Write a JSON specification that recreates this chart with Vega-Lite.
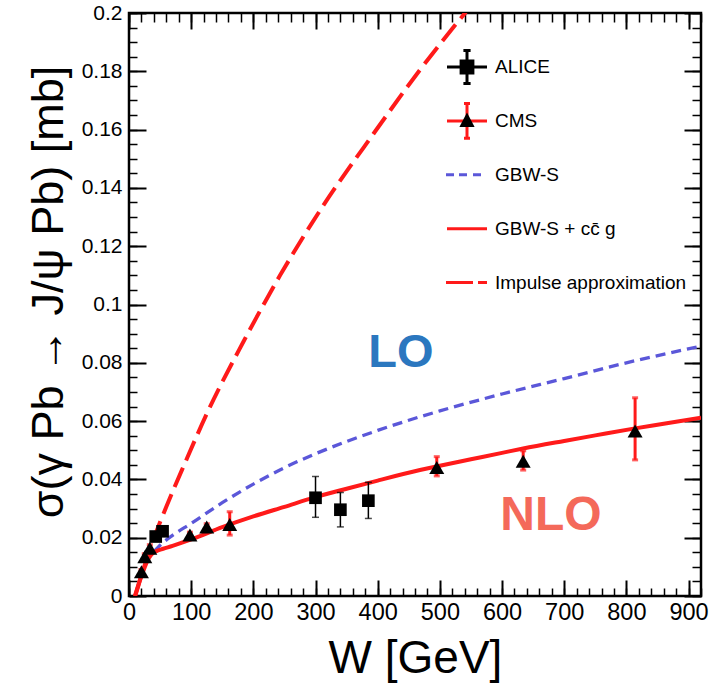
{
  "$schema": "https://vega.github.io/schema/vega-lite/v6.json",
  "width": 572,
  "height": 583,
  "autosize": {"type": "none"},
  "padding": {"left": 129, "top": 13, "right": 21, "bottom": 95},
  "background": "white",
  "config": {
    "view": {"stroke": "black", "strokeWidth": 2.5},
    "font": "Liberation Sans",
    "axis": {"grid": false, "domain": false, "labelFont": "Liberation Sans", "titleFont": "Liberation Sans", "labelColor": "black", "titleColor": "black", "tickColor": "black", "labelFlush": false, "labelOverlap": false}
  },
  "datasets": {
    "alice": [
      {"W": 43, "sigma": 0.0204, "lo": 0.0192, "hi": 0.0216},
      {"W": 54, "sigma": 0.0222, "lo": 0.021, "hi": 0.0234},
      {"W": 300, "sigma": 0.0337, "lo": 0.027, "hi": 0.041},
      {"W": 340, "sigma": 0.0296, "lo": 0.0237, "hi": 0.0355},
      {"W": 385, "sigma": 0.0327, "lo": 0.0266, "hi": 0.039}
    ],
    "cms": [
      {"W": 20, "sigma": 0.0083, "lo": 0.0075, "hi": 0.0091},
      {"W": 25.4, "sigma": 0.0135, "lo": 0.0125, "hi": 0.0145},
      {"W": 33.5, "sigma": 0.0164, "lo": 0.0152, "hi": 0.0176},
      {"W": 98, "sigma": 0.0209, "lo": 0.0199, "hi": 0.0219},
      {"W": 125, "sigma": 0.0237, "lo": 0.0226, "hi": 0.0248},
      {"W": 162, "sigma": 0.0245, "lo": 0.0209, "hi": 0.0289},
      {"W": 495, "sigma": 0.0441, "lo": 0.0412, "hi": 0.0478},
      {"W": 634, "sigma": 0.0462, "lo": 0.0432, "hi": 0.0498},
      {"W": 814, "sigma": 0.0566, "lo": 0.0467, "hi": 0.068}
    ],
    "impulse": [
      {"W": 9.5, "sigma": 0}, {"W": 20, "sigma": 0.0072}, {"W": 30, "sigma": 0.0136}, {"W": 39, "sigma": 0.0192},
      {"W": 60, "sigma": 0.0306}, {"W": 90, "sigma": 0.0456}, {"W": 127, "sigma": 0.0634}, {"W": 184, "sigma": 0.0872},
      {"W": 243, "sigma": 0.11}, {"W": 312, "sigma": 0.1338}, {"W": 393, "sigma": 0.1585}, {"W": 468, "sigma": 0.1805},
      {"W": 550, "sigma": 0.2025}
    ],
    "gbws": [
      {"W": 40, "sigma": 0.0152}, {"W": 52, "sigma": 0.0178}, {"W": 70, "sigma": 0.0208}, {"W": 100, "sigma": 0.0249},
      {"W": 150, "sigma": 0.032}, {"W": 200, "sigma": 0.0384}, {"W": 250, "sigma": 0.044}, {"W": 300, "sigma": 0.0488},
      {"W": 350, "sigma": 0.053}, {"W": 400, "sigma": 0.0568}, {"W": 450, "sigma": 0.0603}, {"W": 500, "sigma": 0.0635},
      {"W": 600, "sigma": 0.0693}, {"W": 700, "sigma": 0.0746}, {"W": 800, "sigma": 0.08}, {"W": 920, "sigma": 0.0857}
    ],
    "nlo": [
      {"W": 10, "sigma": 0}, {"W": 15, "sigma": 0.0035}, {"W": 20, "sigma": 0.0068}, {"W": 25, "sigma": 0.0097},
      {"W": 30, "sigma": 0.0122}, {"W": 35, "sigma": 0.014}, {"W": 40, "sigma": 0.015}, {"W": 45, "sigma": 0.0155},
      {"W": 55, "sigma": 0.0162}, {"W": 70, "sigma": 0.0172}, {"W": 100, "sigma": 0.0194}, {"W": 150, "sigma": 0.0236},
      {"W": 200, "sigma": 0.0273}, {"W": 250, "sigma": 0.0306}, {"W": 300, "sigma": 0.0339}, {"W": 350, "sigma": 0.0368},
      {"W": 400, "sigma": 0.0396}, {"W": 468, "sigma": 0.0432}, {"W": 500, "sigma": 0.0447}, {"W": 550, "sigma": 0.0469},
      {"W": 600, "sigma": 0.0491}, {"W": 634, "sigma": 0.0506}, {"W": 700, "sigma": 0.0532}, {"W": 750, "sigma": 0.0551},
      {"W": 814, "sigma": 0.0575}, {"W": 860, "sigma": 0.0591}, {"W": 920, "sigma": 0.0612}
    ],
    "labels": [
      {"W": 437.5, "sigma": 0.0786, "label": "LO"},
      {"W": 678.6, "sigma": 0.0226, "label": "NLO"}
    ]
  },
  "layer": [
    {
      "data": {"name": "gbws"},
      "mark": {"type": "line", "color": "#5b57d9", "strokeWidth": 3.3, "strokeDash": [10, 6], "clip": true, "interpolate": "monotone"},
      "encoding": {
        "x": {"field": "W", "type": "quantitative", "scale": {"domain": [0, 920], "nice": false, "zero": false},
          "axis": {"orient": "bottom", "ticks": false, "values": [0, 100, 200, 300, 400, 500, 600, 700, 800, 900], "format": "d", "labelFontSize": 23.5, "labelPadding": 4, "title": "W [GeV]", "titleFontSize": 46, "titleFontWeight": "normal", "titleX": 286, "titleY": 76, "titleBaseline": "alphabetic", "titleAlign": "center"}},
        "y": {"field": "sigma", "type": "quantitative", "scale": {"domain": [0, 0.2], "nice": false, "zero": false},
          "axis": {"orient": "left", "ticks": false, "values": [0, 0.02, 0.04, 0.06, 0.08, 0.1, 0.12, 0.14, 0.16, 0.18, 0.2], "format": "~g", "labelFontSize": 21, "labelPadding": 7, "title": "σ(γ Pb → J/ψ Pb) [mb]", "titleFontSize": 45, "titleFontWeight": "normal", "titleX": -67, "titleY": 278.5, "titleAngle": 270, "titleBaseline": "alphabetic", "titleAlign": "center"}}
      }
    },
    {
      "data": {"name": "impulse"},
      "mark": {"type": "line", "color": "#ff1a1a", "strokeWidth": 4, "strokeDash": [21, 8], "clip": true, "interpolate": "monotone"},
      "encoding": {
        "x": {"field": "W", "type": "quantitative", "axis": {"orient": "bottom", "labels": false, "title": null, "values": [0, 100, 200, 300, 400, 500, 600, 700, 800, 900], "tickSize": -16, "tickWidth": 2}},
        "y": {"field": "sigma", "type": "quantitative", "axis": {"orient": "left", "labels": false, "title": null, "values": [0, 0.02, 0.04, 0.06, 0.08, 0.1, 0.12, 0.14, 0.16, 0.18, 0.2], "tickSize": -17, "tickWidth": 2}}
      }
    },
    {
      "data": {"name": "nlo"},
      "mark": {"type": "line", "color": "#ff1a1a", "strokeWidth": 4, "clip": true, "interpolate": "monotone"},
      "encoding": {
        "x": {"field": "W", "type": "quantitative", "axis": {"orient": "bottom", "labels": false, "title": null, "tickCount": 46, "tickSize": -8, "tickWidth": 1.5}},
        "y": {"field": "sigma", "type": "quantitative", "axis": {"orient": "left", "labels": false, "title": null, "tickCount": 40, "tickSize": -8, "tickWidth": 1.5}}
      }
    },
    {
      "data": {"name": "alice"},
      "mark": {"type": "rule", "color": "black", "strokeWidth": 1.5},
      "encoding": {
        "x": {"field": "W", "type": "quantitative", "axis": {"orient": "top", "labels": false, "title": null, "values": [0, 100, 200, 300, 400, 500, 600, 700, 800, 900], "tickSize": -16, "tickWidth": 2}},
        "y": {"field": "lo", "type": "quantitative", "axis": {"orient": "right", "labels": false, "title": null, "values": [0, 0.02, 0.04, 0.06, 0.08, 0.1, 0.12, 0.14, 0.16, 0.18, 0.2], "tickSize": -17, "tickWidth": 2}},
        "y2": {"field": "hi"}
      }
    },
    {
      "data": {"name": "alice"},
      "mark": {"type": "tick", "orient": "horizontal", "color": "black", "size": 7, "thickness": 1.5},
      "encoding": {
        "x": {"field": "W", "type": "quantitative", "axis": {"orient": "top", "labels": false, "title": null, "tickCount": 46, "tickSize": -9, "tickWidth": 1.5}},
        "y": {"field": "lo", "type": "quantitative", "axis": {"orient": "right", "labels": false, "title": null, "tickCount": 40, "tickSize": -9, "tickWidth": 1.5}}
      }
    },
    {
      "data": {"name": "alice"},
      "mark": {"type": "tick", "orient": "horizontal", "color": "black", "size": 7, "thickness": 1.5},
      "encoding": {
        "x": {"field": "W", "type": "quantitative", "axis": null},
        "y": {"field": "hi", "type": "quantitative", "axis": null}
      }
    },
    {
      "data": {"name": "alice"},
      "mark": {"type": "point", "shape": "square", "filled": true, "color": "black", "size": 160, "opacity": 1},
      "encoding": {
        "x": {"field": "W", "type": "quantitative", "axis": null},
        "y": {"field": "sigma", "type": "quantitative", "axis": null}
      }
    },
    {
      "data": {"name": "cms"},
      "mark": {"type": "rule", "color": "#ff1a1a", "strokeWidth": 3},
      "encoding": {
        "x": {"field": "W", "type": "quantitative", "axis": null},
        "y": {"field": "lo", "type": "quantitative", "axis": null},
        "y2": {"field": "hi"}
      }
    },
    {
      "data": {"name": "cms"},
      "mark": {"type": "tick", "orient": "horizontal", "color": "#ff1a1a", "size": 6, "thickness": 3},
      "encoding": {
        "x": {"field": "W", "type": "quantitative", "axis": null},
        "y": {"field": "lo", "type": "quantitative", "axis": null}
      }
    },
    {
      "data": {"name": "cms"},
      "mark": {"type": "tick", "orient": "horizontal", "color": "#ff1a1a", "size": 6, "thickness": 3},
      "encoding": {
        "x": {"field": "W", "type": "quantitative", "axis": null},
        "y": {"field": "hi", "type": "quantitative", "axis": null}
      }
    },
    {
      "data": {"name": "cms"},
      "mark": {"type": "point", "shape": "triangle-up", "filled": true, "color": "black", "size": 225, "opacity": 1},
      "encoding": {
        "x": {"field": "W", "type": "quantitative", "axis": null},
        "y": {"field": "sigma", "type": "quantitative", "axis": null}
      }
    },
    {
      "data": {"name": "labels"},
      "transform": [{"filter": "datum.label == 'LO'"}],
      "mark": {"type": "text", "color": "#2b77bf", "font": "Liberation Sans", "fontWeight": "bold", "fontSize": 47, "align": "center", "baseline": "alphabetic"},
      "encoding": {
        "x": {"field": "W", "type": "quantitative", "axis": null},
        "y": {"field": "sigma", "type": "quantitative", "axis": null},
        "text": {"field": "label"}
      }
    },
    {
      "data": {"name": "labels"},
      "transform": [{"filter": "datum.label == 'NLO'"}],
      "mark": {"type": "text", "color": "#f4695a", "font": "Liberation Sans", "fontWeight": "bold", "fontSize": 48, "align": "center", "baseline": "alphabetic"},
      "encoding": {
        "x": {"field": "W", "type": "quantitative", "axis": null},
        "y": {"field": "sigma", "type": "quantitative", "axis": null},
        "text": {"field": "label"}
      }
    },
    {
      "data": {"values": []},
      "mark": {"type": "point", "filled": false, "strokeWidth": 3, "opacity": 1},
      "encoding": {
        "stroke": {"field": "s", "type": "nominal",
          "scale": {"domain": ["ALICE", "CMS", "GBW-S", "GBW-S + cc̄ g", "Impulse approximation"], "range": ["black", "#ff1a1a", "#5b57d9", "#ff1a1a", "#ff1a1a"]},
          "legend": {"orient": "none", "legendX": 316.5, "legendY": 32, "title": null, "symbolSize": 1600, "symbolStrokeWidth": 3, "symbolFillColor": "transparent", "symbolOpacity": 1, "labelFont": "Liberation Sans", "labelFontSize": 19, "labelColor": "black", "labelOffset": 6.5, "labelLimit": 400, "clipHeight": 44, "rowPadding": 9.9, "padding": 0}},
        "shape": {"field": "s", "type": "nominal",
          "scale": {"domain": ["ALICE", "CMS", "GBW-S", "GBW-S + cc̄ g", "Impulse approximation"], "range": ["M-1,0H1M0,-0.83V0.83M-0.18,-0.83H0.18M-0.18,0.83H0.18", "M-1,0H1M0,-0.87V0.87M-0.15,-0.87H0.15M-0.15,0.87H0.15", "M-1.05,0H-0.65M-0.4,0H0M0.3,0H0.7", "M-1,0H1", "M-1.05,0H0.3M0.55,0H1"]},
          "legend": {"orient": "none", "legendX": 316.5, "legendY": 32, "title": null, "symbolSize": 1600, "symbolStrokeWidth": 3, "symbolFillColor": "transparent", "symbolOpacity": 1, "labelFont": "Liberation Sans", "labelFontSize": 19, "labelColor": "black", "labelOffset": 6.5, "labelLimit": 400, "clipHeight": 44, "rowPadding": 9.9, "padding": 0}}
      }
    },
    {
      "data": {"values": []},
      "mark": {"type": "point", "filled": true, "opacity": 1},
      "encoding": {
        "fill": {"field": "m", "type": "nominal",
          "scale": {"domain": ["ALICE ", "CMS ", "GBW-S ", "GBW-S + cc̄ g ", "Impulse approximation "], "range": ["black", "black", "black", "black", "black"]},
          "legend": {"orient": "none", "legendX": 318, "legendY": 32, "title": null, "symbolSize": 1600, "symbolStrokeWidth": 0, "symbolOpacity": 1, "labelFont": "Liberation Sans", "labelFontSize": 19, "labelColor": "transparent", "labelOffset": 6.5, "labelLimit": 400, "clipHeight": 44, "rowPadding": 9.9, "padding": 0}},
        "shape": {"field": "m", "type": "nominal",
          "scale": {"domain": ["ALICE ", "CMS ", "GBW-S ", "GBW-S + cc̄ g ", "Impulse approximation "], "range": ["M-0.37,-0.37H0.37V0.37H-0.37Z", "M0,-0.42L0.38,0.3H-0.38Z", "M0,0", "M0,0", "M0,0"]},
          "legend": {"orient": "none", "legendX": 318, "legendY": 32, "title": null, "symbolSize": 1600, "symbolStrokeWidth": 0, "symbolOpacity": 1, "labelFont": "Liberation Sans", "labelFontSize": 19, "labelColor": "transparent", "labelOffset": 6.5, "labelLimit": 400, "clipHeight": 44, "rowPadding": 9.9, "padding": 0}}
      }
    }
  ],
  "resolve": {
    "scale": {"shape": "independent", "stroke": "independent", "fill": "independent"},
    "legend": {"shape": "independent", "stroke": "independent", "fill": "independent"},
    "axis": {"x": "independent", "y": "independent"}
  }
}
